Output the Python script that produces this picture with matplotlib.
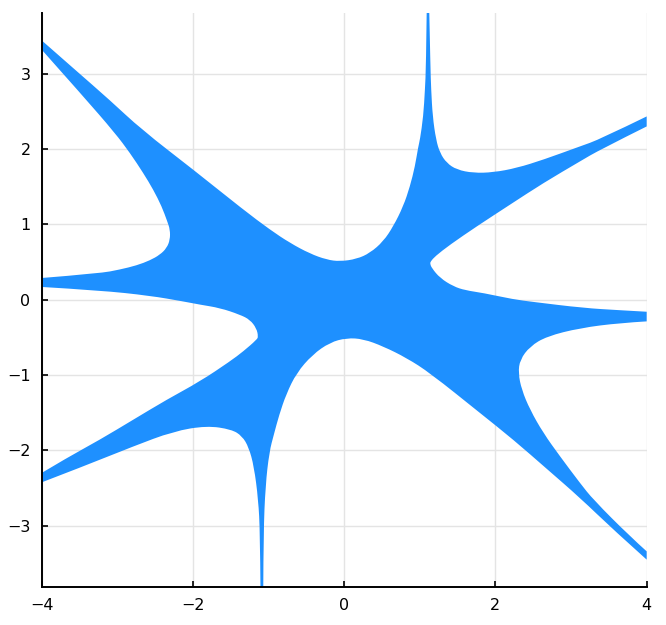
import numpy as np
import matplotlib
matplotlib.use("Agg")
import matplotlib.pyplot as plt
from matplotlib.path import Path
from matplotlib.patches import PathPatch

# Boundary curves of the filled region (data coordinates)
# W1: arm 1 upper edge -> central dip -> arm 8 left edge
w1_x = [-4.0, -3.55, -3.10, -2.678, -1.995, -1.334, -0.981, -0.717, -0.452, -0.231,
        -0.056, 0.165, 0.341, 0.517, 0.649, 0.781, 0.870, 0.936, 0.980, 1.002, 1.046,
        1.068, 1.082, 1.091]
w1_y = [3.442, 3.045, 2.650, 2.257, 1.726, 1.195, 0.929, 0.753, 0.611, 0.531,
        0.508, 0.540, 0.620, 0.774, 0.973, 1.239, 1.504, 1.770, 2.035, 2.124, 2.433,
        2.788, 3.097, 3.82]
# W2: arm 8 right edge -> arm 7 upper edge
w2_x = [1.125, 1.140, 1.150, 1.170, 1.214, 1.267, 1.355, 1.488, 1.707, 1.972, 2.281,
        2.633, 3.118, 3.382, 4.0]
w2_y = [3.82, 3.097, 2.788, 2.433, 2.124, 1.947, 1.815, 1.726, 1.682, 1.690, 1.748,
        1.858, 2.035, 2.130, 2.433]
# W3: arm 7 lower edge -> cusp -> arm 6 upper edge
w3_x = [4.0, 3.382, 3.118, 2.633, 2.192, 1.752, 1.399, 1.201, 1.144, 1.135, 1.157,
        1.267, 1.443, 1.600, 1.839, 2.236, 2.500, 3.162, 3.647, 4.0]
w3_y = [2.300, 1.991, 1.836, 1.549, 1.261, 0.973, 0.730, 0.575, 0.508, 0.480, 0.421,
        0.288, 0.177, 0.125, 0.089, 0.005, -0.030, -0.110, -0.140, -0.160]
# W4: arm 6 lower edge -> nose -> arm 5 upper edge
w4_x = [4.0, 3.647, 3.118, 2.678, 2.457, 2.325, 2.302, 2.347, 2.457, 2.633, 2.854,
        3.118, 3.294, 3.779, 4.0]
w4_y = [-0.288, -0.309, -0.376, -0.487, -0.620, -0.797, -0.973, -1.195, -1.460,
        -1.770, -2.080, -2.434, -2.655, -3.142, -3.341]
# W5: arm 5 lower edge -> central dip -> arm 4 right edge
w5_x = [4.0, 3.558, 3.118, 2.678, 2.236, 1.796, 1.135, 0.826, 0.517, 0.253, 0.033,
        -0.188, -0.420, -0.630, -0.765, -0.860, -0.930, -0.990, -1.041, -1.067, -1.070]
w5_y = [-3.451, -3.053, -2.630, -2.245, -1.858, -1.504, -0.973, -0.774, -0.620, -0.522,
        -0.508, -0.567, -0.730, -0.973, -1.250, -1.530, -1.790, -2.020, -2.469, -3.094,
        -3.82]
# W6: arm 4 left edge -> arm 3 lower edge
w6_x = [-1.107, -1.113, -1.136, -1.193, -1.262, -1.350, -1.490, -1.818, -2.260, -2.789,
        -3.450, -4.0]
w6_y = [-3.82, -3.094, -2.655, -2.213, -1.960, -1.810, -1.722, -1.673, -1.748, -1.947,
        -2.213, -2.425]
# W7: arm 3 upper edge -> cusp -> arm 2 lower edge
w7_x = [-4.0, -3.669, -3.229, -2.789, -2.347, -1.907, -1.510, -1.334, -1.157, -1.136,
        -1.160, -1.246, -1.378, -1.642, -1.907, -2.128, -2.568, -3.229, -4.0]
w7_y = [-2.300, -2.101, -1.858, -1.593, -1.327, -1.085, -0.819, -0.686, -0.531, -0.490,
        -0.380, -0.266, -0.199, -0.110, -0.066, -0.023, 0.053, 0.123, 0.169]
# W8: arm 2 upper edge -> nose -> arm 1 lower edge
w8_x = [-4.0, -3.229, -2.966, -2.744, -2.568, -2.436, -2.347, -2.303, -2.303, -2.339,
        -2.413, -2.524, -2.657, -2.832, -3.031, -3.450, -4.0]
w8_y = [0.288, 0.350, 0.400, 0.455, 0.522, 0.597, 0.686, 0.797, 0.929, 1.039,
        1.238, 1.460, 1.682, 1.947, 2.213, 2.699, 3.319]

x_ticks = [-4, -2, 0, 2, 4]
y_ticks = [-3, -2, -1, 0, 1, 2, 3]
x_limits = (-4.0, 4.0)
y_limits = (-3.81, 3.81)

fill_color = "#1E90FF"

curves = [(w1_x, w1_y), (w2_x, w2_y), (w3_x, w3_y), (w4_x, w4_y),
          (w5_x, w5_y), (w6_x, w6_y), (w7_x, w7_y), (w8_x, w8_y)]

# Smooth outline: traced points act as quadratic Bezier control points
verts, codes = [], []
for k, (cx, cy) in enumerate(curves):
    pts = list(zip(cx, cy))
    verts.append(pts[0])
    codes.append(Path.MOVETO if k == 0 else Path.LINETO)
    n = len(pts)
    for i in range(1, n - 1):
        p = pts[i]
        q = pts[i + 1]
        end = q if i == n - 2 else ((p[0] + q[0]) / 2, (p[1] + q[1]) / 2)
        verts += [p, end]
        codes += [Path.CURVE3, Path.CURVE3]
verts.append((w1_x[0], w1_y[0]))
codes.append(Path.CLOSEPOLY)

fig = plt.figure(figsize=(6.66, 6.25), dpi=100)
ax = fig.add_axes([0.0626, 0.0613, 0.9084, 0.9184])

patch = PathPatch(Path(verts, codes), facecolor=fill_color, edgecolor="none",
                  linewidth=0, zorder=2)
ax.add_patch(patch)

ax.set_xlim(*x_limits)
ax.set_ylim(*y_limits)
ax.set_xticks(x_ticks)
ax.set_yticks(y_ticks)

ax.grid(True, color="#E4E4E4", linewidth=1.0, zorder=0)
ax.set_axisbelow(True)
for s in ["top", "right"]:
    ax.spines[s].set_visible(False)
for s in ["left", "bottom"]:
    ax.spines[s].set_linewidth(1.4)
    ax.spines[s].set_color("black")
    ax.spines[s].set_zorder(3)
ax.tick_params(direction="in", length=4, width=1.2, labelsize=11.5, pad=8, colors="black")

fig.savefig("out.png", dpi=100)
